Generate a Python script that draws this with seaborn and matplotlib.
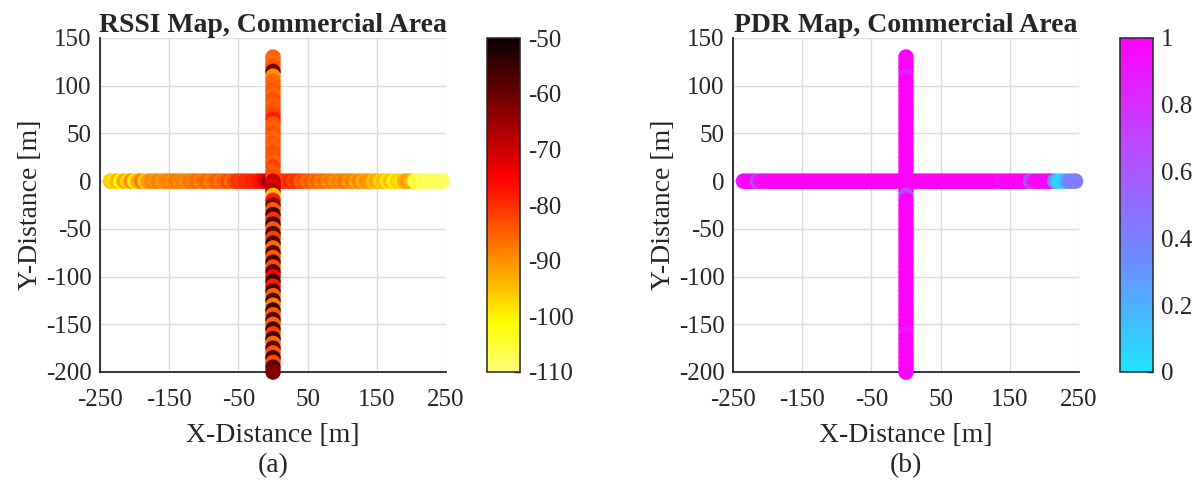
import numpy as np
import pandas as pd
import matplotlib
matplotlib.use("Agg")
import matplotlib.pyplot as plt
import matplotlib.colors as mcolors
import seaborn as sns

# ---------------- data ----------------
horiz_x = [-235, -230, -225, -220, -215, -210, -205, -200, -195, -190,
           -185, -180, -175, -170, -165, -160, -155, -150, -145, -140,
           -135, -130, -125, -120, -115, -110, -105, -100, -95, -90,
           -85, -80, -75, -70, -65, -60, -55, -50, -45, -40,
           -35, -30, -25, -20, -15, -10, -5, 0, 5, 10,
           15, 20, 25, 30, 35, 40, 45, 50, 55, 60,
           65, 70, 75, 80, 85, 90, 95, 100, 105, 110,
           115, 120, 125, 130, 135, 140, 145, 150, 155, 160,
           165, 170, 175, 180, 185, 190, 195, 200, 205, 210,
           215, 220, 225, 230, 235, 240, 245]
horiz_rssi = [-96, -98, -94, -101, -92, -97, -90, -99, -93, -88,
              -96, -91, -89, -90, -88, -91, -89, -88, -90, -87,
              -89, -88, -90, -87, -88, -86, -89, -87, -85, -88,
              -86, -84, -87, -85, -83, -86, -82, -80, -81, -79,
              -80, -78, -79, -77, -76, -72, -65, -60, -76, -79,
              -78, -81, -79, -82, -80, -84, -83, -86, -84, -87,
              -85, -88, -86, -89, -87, -90, -88, -89, -87, -91,
              -88, -92, -89, -93, -90, -91, -95, -92, -97, -94,
              -99, -95, -100, -96, -98, -93, -91, -94, -106, -105,
              -107, -106, -108, -107, -108, -107, -108]
horiz_pdr = [0.92, 1, 1, 1, 0.70, 0.95, 1, 1, 1, 1,
             1, 1, 1, 1, 1, 1, 1, 1, 1, 1,
             1, 1, 1, 1, 1, 1, 1, 1, 1, 1,
             1, 1, 1, 1, 1, 1, 1, 1, 1, 1,
             1, 1, 1, 1, 1, 1, 1, 1, 1, 1,
             1, 1, 1, 1, 1, 1, 1, 1, 1, 1,
             1, 1, 1, 1, 1, 1, 1, 1, 1, 1,
             1, 1, 1, 1, 1, 0.93, 1, 1, 1, 1,
             1, 1, 1, 0.60, 0.90, 1, 1, 1, 1, 1,
             0.30, 0.10, 0.05, 0.15, 0.35, 0.40, 0.42]

vert_y = [130, 125, 120, 115, 110, 105, 100, 95, 90, 85,
          80, 75, 70, 65, 60, 55, 50, 45, 40, 35,
          30, 25, 20, 15, 10, 5, 0, -5, -10, -15,
          -20, -25, -30, -35, -40, -45, -50, -55, -60, -65,
          -70, -75, -80, -85, -90, -95, -100, -105, -110, -115,
          -120, -125, -130, -135, -140, -145, -150, -155, -160, -165,
          -170, -175, -180, -185, -190, -195, -200]
vert_rssi = [-85, -86, -84, -60, -90, -86, -85, -84, -86, -83,
             -85, -84, -82, -78, -84, -85, -83, -86, -84, -85,
             -83, -84, -85, -82, -84, -83, -70, -72, -68, -95,
             -78, -62, -84, -55, -80, -56, -84, -57, -82, -55,
             -86, -58, -84, -56, -83, -58, -75, -55, -78, -57,
             -85, -56, -88, -55, -84, -57, -85, -56, -82, -55,
             -86, -58, -84, -56, -83, -58, -62]
vert_pdr = [1, 1, 1, 1, 0.85, 1, 1, 1, 1, 1,
            1, 1, 1, 1, 1, 1, 1, 1, 1, 1,
            1, 1, 1, 1, 1, 1, 1, 1, 1, 0.65,
            1, 1, 1, 1, 1, 1, 1, 1, 1, 1,
            1, 1, 1, 1, 1, 1, 1, 1, 1, 1,
            1, 1, 1, 1, 1, 1, 1, 1, 0.90, 1,
            1, 1, 1, 1, 1, 1, 1]

x_ticks = [-250, -150, -50, 50, 150, 250]
y_ticks = [-200, -150, -100, -50, 0, 50, 100, 150]
rssi_ticks = [-110, -100, -90, -80, -70, -60, -50]
pdr_ticks = [0, 0.2, 0.4, 0.6, 0.8, 1]

# ---------------- style ----------------
sns.set_style("white")
plt.rcParams["font.family"] = ["Liberation Serif", "DejaVu Serif"]
plt.rcParams["axes.unicode_minus"] = False

hot = plt.get_cmap("hot")
rssi_cmap = mcolors.ListedColormap(hot(np.linspace(0.87, 0.0, 256)))
pdr_cmap = mcolors.LinearSegmentedColormap.from_list(
    "pdr", ["#1fe4ff", "#6c8cff", "#b84cff", "#ff00ff"])

df_h = pd.DataFrame({"x": horiz_x, "y": [0] * len(horiz_x),
                     "rssi": horiz_rssi, "pdr": horiz_pdr})
df_v = pd.DataFrame({"x": [0] * len(vert_y), "y": vert_y,
                     "rssi": vert_rssi, "pdr": vert_pdr})

fig = plt.figure(figsize=(12.02, 4.80), dpi=100)

panels = [
    dict(col="rssi", cmap=rssi_cmap, vmin=-110, vmax=-50, cticks=rssi_ticks,
         title="RSSI Map, Commercial Area", tag="(a)",
         ax=[100 / 1202, 108 / 480, 346 / 1202, 334 / 480],
         cax=[487 / 1202, 108 / 480, 33 / 1202, 334 / 480],
         cfmt=lambda v: f"{int(v)}"),
    dict(col="pdr", cmap=pdr_cmap, vmin=0, vmax=1, cticks=pdr_ticks,
         title="PDR Map, Commercial Area", tag="(b)",
         ax=[733 / 1202, 108 / 480, 346 / 1202, 334 / 480],
         cax=[1120 / 1202, 108 / 480, 33 / 1202, 334 / 480],
         cfmt=lambda v: f"{v:g}"),
]

for p in panels:
    ax = fig.add_axes(p["ax"])
    norm = mcolors.Normalize(vmin=p["vmin"], vmax=p["vmax"])
    for df in (df_h, df_v):
        sns.scatterplot(data=df, x="x", y="y", hue=p["col"], palette=p["cmap"],
                        hue_norm=norm, s=125, linewidth=0, legend=False,
                        ax=ax, zorder=3, clip_on=False)
    ax.set_xlim(-250, 250)
    ax.set_ylim(-200, 150)
    ax.set_xticks(x_ticks)
    ax.set_yticks(y_ticks)
    ax.grid(True, color="#dcdcdc", linewidth=1.0, zorder=0)
    ax.set_axisbelow(True)
    for s in ("top", "right"):
        ax.spines[s].set_visible(False)
    for s in ("left", "bottom"):
        ax.spines[s].set_color("#262626")
        ax.spines[s].set_linewidth(1.3)
    ax.tick_params(direction="in", length=4, width=1.1, colors="#262626",
                   labelsize=18, labelcolor="#262626")
    ax.tick_params(axis="x", pad=12)
    ax.tick_params(axis="y", pad=6)
    ax.set_xlabel("X-Distance [m]", fontsize=20, color="#262626", labelpad=9)
    ax.set_ylabel("Y-Distance [m]", fontsize=20, color="#262626", labelpad=2)
    ax.set_title(p["title"], fontsize=20, fontweight="bold", pad=4)
    ax.text(0.5, -0.28, p["tag"], transform=ax.transAxes, ha="center",
            va="center", fontsize=20, color="#262626")

    cax = fig.add_axes(p["cax"])
    sm = plt.cm.ScalarMappable(cmap=p["cmap"], norm=norm)
    cb = fig.colorbar(sm, cax=cax)
    cb.set_ticks(p["cticks"])
    cb.set_ticklabels([p["cfmt"](v) for v in p["cticks"]])
    cb.outline.set_edgecolor("#262626")
    cb.outline.set_linewidth(1.1)
    cax.tick_params(direction="in", length=4, width=1.0, colors="#262626",
                    labelsize=18, labelcolor="#262626", pad=6)

fig.savefig("out.png", dpi=100)
